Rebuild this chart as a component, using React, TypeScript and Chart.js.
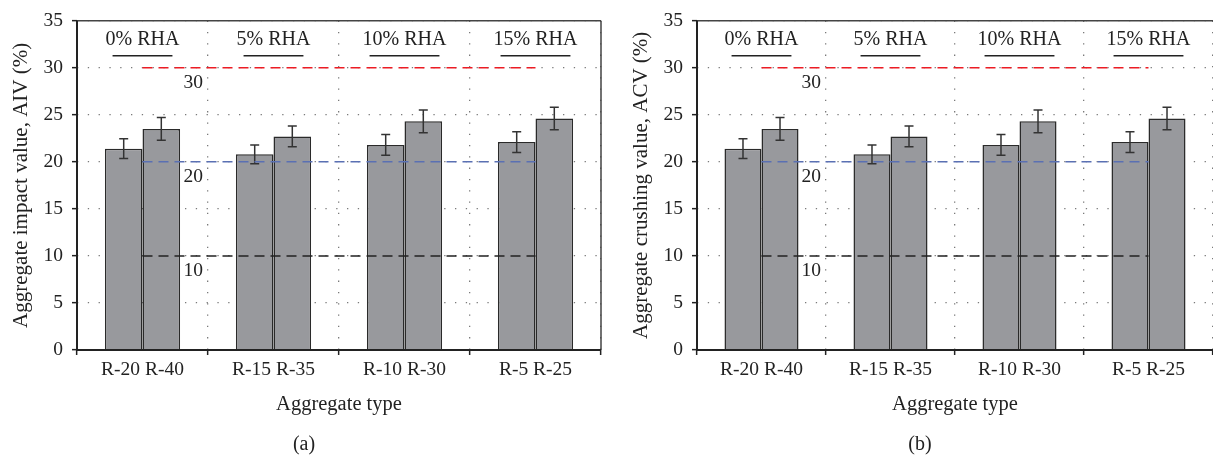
import React, { useEffect, useRef } from 'react';
import { Chart, registerables } from 'chart.js';

Chart.register(...registerables);

const categories = ['R-20 R-40', 'R-15 R-35', 'R-10 R-30', 'R-5 R-25'];
const rhaLabels = ['0% RHA', '5% RHA', '10% RHA', '15% RHA'];
const yMin = 0;
const yMax = 35;
const yStep = 5;

const aivFirst = [21.4, 20.8, 21.8, 22.1];
const aivSecond = [23.5, 22.7, 24.3, 24.6];
const aivFirstErr = [1.05, 1.0, 1.1, 1.1];
const aivSecondErr = [1.2, 1.1, 1.2, 1.2];

const acvFirst = [21.4, 20.8, 21.8, 22.1];
const acvSecond = [23.5, 22.7, 24.3, 24.6];
const acvFirstErr = [1.05, 1.0, 1.1, 1.1];
const acvSecondErr = [1.2, 1.1, 1.2, 1.2];

const refValues = [30, 20, 10];
const refColors = ['#ec1c24', '#5a70b3', '#222222'];

const FONT = "'Liberation Serif', 'Times New Roman', serif";
const TEXT = '#222222';

type PanelProps = {
  width: number;
  yAxisWidth: number;
  yTitlePad: number;
  rightPad: number;
  yTitle: string;
  caption: string;
  first: number[];
  second: number[];
  firstErr: number[];
  secondErr: number[];
  drawRightBorder: boolean;
};

function makePlugin(p: PanelProps) {
  return {
    id: 'annot',
    afterDatasetsDraw(chart: any) {
      const { ctx, chartArea: ca, scales } = chart;
      const x = scales.x;
      const y = scales.y;
      const n = categories.length;
      const cw = (ca.right - ca.left) / n;
      ctx.save();
      // error bars
      [p.firstErr, p.secondErr].forEach((errs, di) => {
        const meta = chart.getDatasetMeta(di);
        const vals = chart.data.datasets[di].data as number[];
        meta.data.forEach((bar: any, j: number) => {
          const v = vals[j];
          const e = errs[j];
          const yt = y.getPixelForValue(v + e);
          const yb = y.getPixelForValue(v - e);
          ctx.strokeStyle = '#333333';
          ctx.lineWidth = 1.5;
          ctx.setLineDash([]);
          ctx.beginPath();
          ctx.moveTo(bar.x, yt);
          ctx.lineTo(bar.x, yb);
          ctx.moveTo(bar.x - 4.5, yt);
          ctx.lineTo(bar.x + 4.5, yt);
          ctx.moveTo(bar.x - 4.5, yb);
          ctx.lineTo(bar.x + 4.5, yb);
          ctx.stroke();
        });
      });
      // reference lines
      const xs = x.getPixelForValue(0);
      const xe = x.getPixelForValue(n - 1);
      refValues.forEach((v, i) => {
        const py = y.getPixelForValue(v);
        ctx.strokeStyle = refColors[i];
        ctx.lineWidth = 1.5;
        ctx.setLineDash([10, 6]);
        ctx.beginPath();
        ctx.moveTo(xs, py);
        ctx.lineTo(xe, py);
        ctx.stroke();
        ctx.setLineDash([]);
        ctx.fillStyle = TEXT;
        ctx.font = `19.5px ${FONT}`;
        ctx.textAlign = 'right';
        ctx.textBaseline = 'middle';
        ctx.fillText(String(v), xs + cw / 2 - 5, py + 15);
      });
      // top group labels
      ctx.font = `20px ${FONT}`;
      ctx.textAlign = 'center';
      ctx.textBaseline = 'middle';
      rhaLabels.forEach((t, i) => {
        const cx = x.getPixelForValue(i);
        ctx.fillStyle = TEXT;
        ctx.fillText(t, cx, ca.top + 19);
        const w = ctx.measureText(t).width - 14;
        ctx.strokeStyle = '#222222';
        ctx.lineWidth = 1.5;
        ctx.beginPath();
        ctx.moveTo(cx - w / 2, ca.top + 35);
        ctx.lineTo(cx + w / 2, ca.top + 35);
        ctx.stroke();
      });
      // frame
      ctx.setLineDash([]);
      ctx.strokeStyle = '#444444';
      ctx.lineWidth = 1.5;
      ctx.beginPath();
      ctx.moveTo(ca.left, ca.top);
      ctx.lineTo(p.drawRightBorder ? ca.right : chart.width, ca.top);
      if (p.drawRightBorder) {
        ctx.moveTo(ca.right, ca.top);
        ctx.lineTo(ca.right, ca.bottom);
      }
      ctx.stroke();
      ctx.strokeStyle = '#222222';
      ctx.lineWidth = 2;
      ctx.beginPath();
      ctx.moveTo(ca.left, ca.top);
      ctx.lineTo(ca.left, ca.bottom);
      ctx.moveTo(ca.left - 1, ca.bottom);
      ctx.lineTo(p.drawRightBorder ? ca.right : chart.width, ca.bottom);
      ctx.stroke();
      ctx.restore();
    },
    afterDraw(chart: any) {
      const { ctx, chartArea: ca } = chart;
      ctx.save();
      ctx.fillStyle = TEXT;
      ctx.font = `20px ${FONT}`;
      ctx.textAlign = 'center';
      ctx.textBaseline = 'middle';
      ctx.fillText(p.caption, (ca.left + ca.right) / 2 - 35, 445);
      ctx.restore();
    },
  };
}

function Panel(p: PanelProps) {
  const ref = useRef<HTMLCanvasElement | null>(null);
  useEffect(() => {
    if (!ref.current) return;
    const chart = new Chart(ref.current, {
      type: 'bar',
      data: {
        labels: categories,
        datasets: [
          {
            data: p.first,
            backgroundColor: '#98999d',
            borderColor: '#2a2a2a',
            borderWidth: 1.5,
            categoryPercentage: 0.574,
            barPercentage: 1,
          },
          {
            data: p.second,
            backgroundColor: '#98999d',
            borderColor: '#2a2a2a',
            borderWidth: 1.5,
            categoryPercentage: 0.574,
            barPercentage: 1,
          },
        ],
      },
      options: {
        responsive: false,
        animation: false,
        devicePixelRatio: 1,
        layout: { padding: { top: 19, right: p.rightPad, left: 0, bottom: 0 } },
        plugins: { legend: { display: false }, tooltip: { enabled: false } },
        scales: {
          x: {
            type: 'category',
            offset: true,
            grid: {
              offset: true,
              color: '#7a7a7a',
              lineWidth: 1.3,
              tickLength: 5,
              tickColor: '#222222',
              tickWidth: 1.5,
            },
            border: { display: false, dash: [1.3, 10] },
            ticks: {
              color: TEXT,
              font: { family: FONT, size: 19.5 },
              padding: 3,
              maxRotation: 0,
              autoSkip: false,
            },
            title: {
              display: true,
              text: 'Aggregate type',
              color: TEXT,
              font: { family: FONT, size: 20.5 },
              padding: { top: 0, bottom: 40.7 },
            },
            afterFit: (s: any) => {
              s.height = 108;
            },
          },
          y: {
            min: yMin,
            max: yMax,
            ticks: {
              stepSize: yStep,
              color: TEXT,
              font: { family: FONT, size: 19.5 },
              padding: 9,
            },
            grid: {
              color: '#7a7a7a',
              lineWidth: 1.3,
              tickLength: 5,
              tickColor: '#222222',
              tickWidth: 1.5,
            },
            border: { display: false, dash: [1.3, 9.5] },
            title: {
              display: true,
              text: p.yTitle,
              color: TEXT,
              font: { family: FONT, size: 21 },
              padding: { top: p.yTitlePad, bottom: 0 },
            },
            afterFit: (s: any) => {
              s.width = p.yAxisWidth;
            },
          },
        },
      } as any,
      plugins: [makePlugin(p) as any],
    });
    return () => chart.destroy();
  }, []);
  return <canvas ref={ref} width={p.width} height={458} style={{ display: 'block' }} />;
}

export default function App() {
  return (
    <div style={{ position: 'fixed', left: 0, top: 0, width: 1213, height: 458, background: '#ffffff' }}>
      <div style={{ position: 'absolute', left: 0, top: 0 }}>
        <Panel
          width={606}
          yAxisWidth={77}
          yTitlePad={8.4}
          rightPad={5}
          yTitle="Aggregate impact value, AIV (%)"
          caption="(a)"
          first={aivFirst}
          second={aivSecond}
          firstErr={aivFirstErr}
          secondErr={aivSecondErr}
          drawRightBorder={true}
        />
      </div>
      <div style={{ position: 'absolute', left: 606, top: 0 }}>
        <Panel
          width={607}
          yAxisWidth={91}
          yTitlePad={22.4}
          rightPad={0}
          yTitle="Aggregate crushing value, ACV (%)"
          caption="(b)"
          first={acvFirst}
          second={acvSecond}
          firstErr={acvFirstErr}
          secondErr={acvSecondErr}
          drawRightBorder={false}
        />
      </div>
    </div>
  );
}
